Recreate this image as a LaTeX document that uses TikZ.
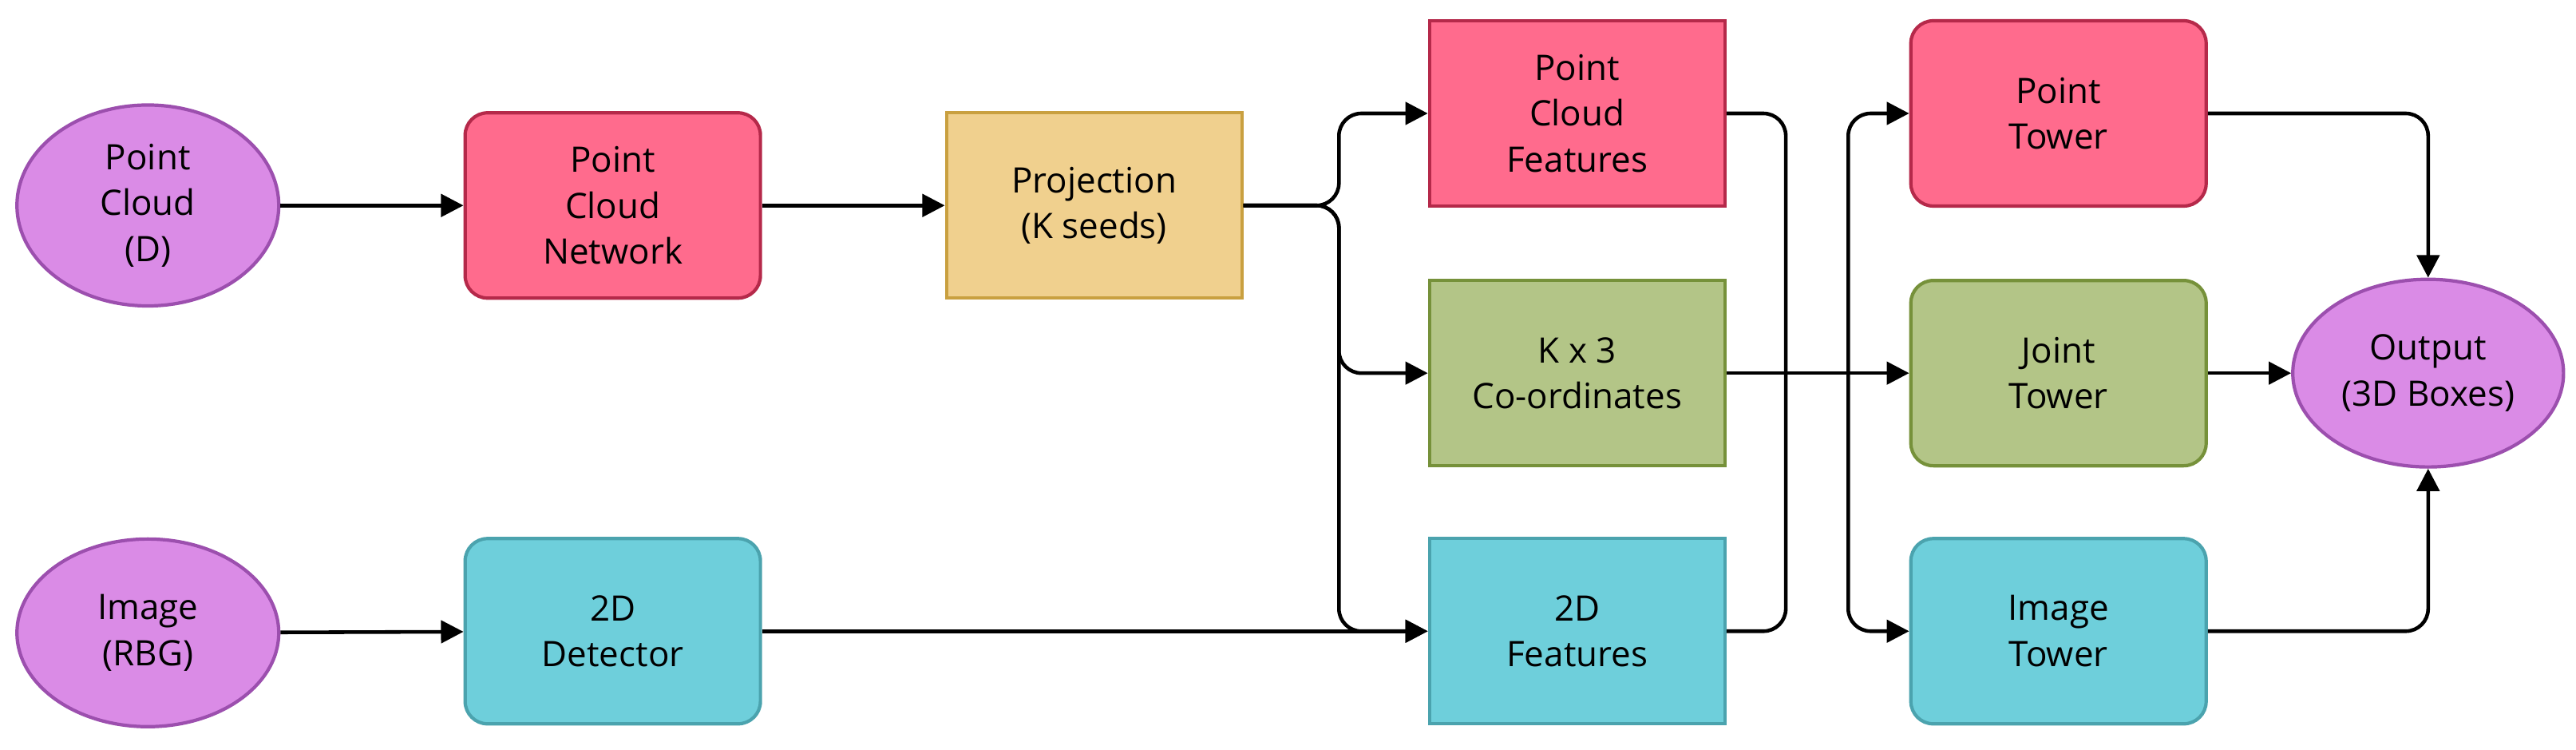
\documentclass[tikz,border=0pt]{standalone}
\usepackage{fontspec}
\setmainfont{Open Sans}
\usetikzlibrary{arrows.meta,shapes.geometric}

\definecolor{pinkfill}{HTML}{FF6B8D}
\definecolor{pinkline}{HTML}{B5294A}
\definecolor{cyanfill}{HTML}{6ECFDB}
\definecolor{cyanline}{HTML}{4BA3AE}
\definecolor{greenfill}{HTML}{B3C587}
\definecolor{greenline}{HTML}{76913A}
\definecolor{yellowfill}{HTML}{F0D08E}
\definecolor{yellowline}{HTML}{C9A040}
\definecolor{purplefill}{HTML}{DA8BE6}
\definecolor{purpleline}{HTML}{9C4FAE}

\tikzset{
  box/.style={rectangle,draw,line width=1.2pt,minimum width=3.7cm,minimum height=2.32cm,
    align=center,font=\fontsize{12.5}{16.4}\selectfont},
  rbox/.style={box,rounded corners=8pt},
  blob/.style={ellipse,draw,line width=1.2pt,minimum width=3.28cm,minimum height=2.35cm,
    align=center,fill=purplefill,draw=purpleline,font=\fontsize{12.5}{16.4}\selectfont},
  arr/.style={line width=1.3pt,rounded corners=8pt,-{Triangle[length=8pt,width=8pt]}},
  wire/.style={line width=1.3pt,rounded corners=8pt}
}

\begin{document}
\begin{tikzpicture}[x=0.02058cm,y=-0.02058cm]
				\useasboundingbox (0,0) rectangle (1568,456);
				
				% Eingaben
				\node[blob] (cloud) at (90,125) {Point\\Cloud\\(D)};
				\node[blob] (image) at (90,385) {Image\\(RBG)};
				
				% erste Stufe
				\node[rbox,fill=pinkfill,draw=pinkline] (net) at (373,125) {Point\\Cloud\\Network};
				\node[rbox,fill=cyanfill,draw=cyanline] (det) at (373,384) {2D\\Detector};
				\node[box,fill=yellowfill,draw=yellowline] (proj) at (666,125) {Projection\\(K seeds)};
				
				% Merkmale
				\node[box,fill=pinkfill,draw=pinkline] (pcf) at (960,69) {Point\\Cloud\\Features};
				\node[box,fill=greenfill,draw=greenline] (coord) at (960,227) {K x 3\\Co-ordinates};
				\node[box,fill=cyanfill,draw=cyanline] (feat) at (960,384) {2D\\Features};
				
				% Tuerme
				\node[rbox,fill=pinkfill,draw=pinkline] (ptower) at (1253,69) {Point\\Tower};
				\node[rbox,fill=greenfill,draw=greenline] (jtower) at (1253,227) {Joint\\Tower};
				\node[rbox,fill=cyanfill,draw=cyanline] (itower) at (1253,384) {Image\\Tower};
				\node[blob] (out) at (1478,227) {Output\\(3D Boxes)};
				
				% Hilfspunkte
				\coordinate (split) at (815,125);
				\coordinate (merge) at (1087,227);
				\coordinate (fork) at (1125,227);
				
				% Verbindungen
				\draw[arr] (cloud) -- (net);
				\draw[arr] (image) -- (det);
				\draw[arr] (net) -- (proj);
				\draw[arr] (proj.east) -- (split) |- (pcf.west);
				\draw[arr] (proj.east) -- (split) |- (coord.west);
				\draw[arr] (proj.east) -- (split) |- (feat.west);
				\draw[arr] (det) -- (feat);
				\draw[wire] (pcf.east) -| (merge);
				\draw[wire] (feat.east) -| (merge);
				\draw[arr] (coord) -- (jtower);
				\draw[arr] (fork) |- (ptower.west);
				\draw[arr] (fork) |- (itower.west);
				\draw[arr] (ptower.east) -| (out.north);
				\draw[arr] (jtower) -- (out);
				\draw[arr] (itower.east) -| (out.south);
				
			\end{tikzpicture}
\end{document}
